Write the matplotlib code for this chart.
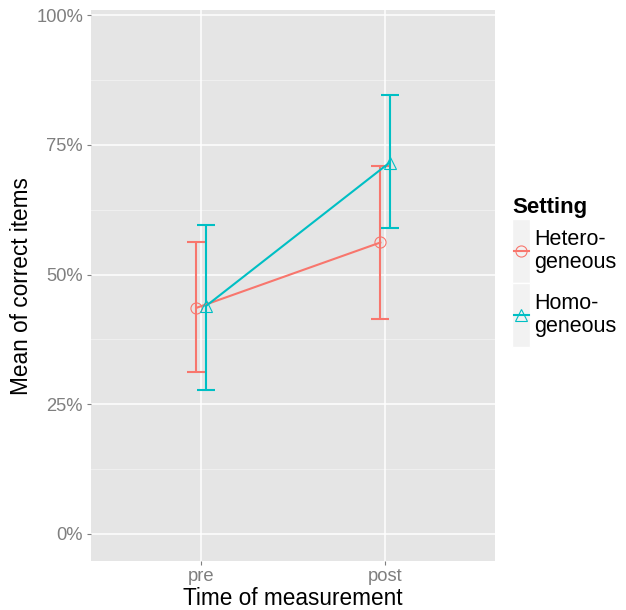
import matplotlib
matplotlib.use("Agg")
import matplotlib.pyplot as plt
from matplotlib.ticker import FuncFormatter, FixedLocator
from matplotlib.patches import Rectangle
from matplotlib.lines import Line2D

plt.rcParams['font.family'] = ['Liberation Sans', 'DejaVu Sans']

# ---- data ----
times = ["pre", "post"]
settings = ["Hetero-\ngeneous", "Homo-\ngeneous"]
hetero_mean = [0.436, 0.562]
hetero_lo = [0.312, 0.414]
hetero_hi = [0.562, 0.709]
homo_mean = [0.439, 0.716]
homo_lo = [0.278, 0.589]
homo_hi = [0.595, 0.846]
colors = ["#F8766D", "#00BFC4"]
markers = ["o", "^"]
y_ticks = [0, 0.25, 0.5, 0.75, 1.0]
y_minor = [0.125, 0.375, 0.625, 0.875]

W, H = 626, 610
fig = plt.figure(figsize=(W / 100, H / 100), dpi=100)
L, R, T, B = 90.7, 495.3, 9.5, 560.7
ax = fig.add_axes([L / W, 1 - B / H, (R - L) / W, (B - T) / H])
ax.set_facecolor("#E5E5E5")
for s in ax.spines.values():
    s.set_visible(False)

ax.set_xlim(-0.6, 1.6)
ax.set_ylim(-0.0515, 1.0112)

# grid
for y in y_minor:
    ax.axhline(y, color="#F2F2F2", lw=0.6, zorder=0)
for y in y_ticks:
    ax.axhline(y, color="white", lw=1.1, zorder=0.5)
for x in range(len(times)):
    ax.axvline(x, color="white", lw=1.1, zorder=0.5)

dodge = 0.025
series = [(hetero_mean, hetero_lo, hetero_hi), (homo_mean, homo_lo, homo_hi)]
for i, (m, lo, hi) in enumerate(series):
    off = -dodge if i == 0 else dodge
    xs = [k + off for k in range(len(times))]
    yerr = [[mm - l for mm, l in zip(m, lo)], [h - mm for mm, h in zip(m, hi)]]
    ax.errorbar(xs, m, yerr=yerr, fmt="none", ecolor=colors[i], elinewidth=1.5,
                capsize=6.5, capthick=1.5, zorder=2)
    ax.plot(xs, m, color=colors[i], lw=1.5, zorder=3)
    ax.plot(xs, m, linestyle="none", marker=markers[i], markersize=8 if i == 0 else 8.8,
            markerfacecolor="none", markeredgecolor=colors[i], markeredgewidth=0.8, zorder=4)

ax.set_xticks(range(len(times)))
ax.set_xticklabels(times)
ax.yaxis.set_major_locator(FixedLocator(y_ticks))
ax.yaxis.set_major_formatter(FuncFormatter(lambda v, p: f"{v*100:.0f}%"))
ax.tick_params(axis="both", colors="#7F7F7F", labelcolor="#7F7F7F", labelsize=13.2,
               length=3, width=0.8, pad=2.5)

fig.text((L + R) / 2 / W, 1 - 605 / H, "Time of measurement", ha="center",
         va="baseline", fontsize=16.3, color="black")
fig.text(22 / W, 1 - 286 / H, "Mean of correct items", ha="center", va="center",
         rotation=90, fontsize=16.3, color="black")

# ---- legend ----
fig.text(512 / W, 1 - 213 / H, "Setting", ha="left", va="baseline", fontsize=16,
         fontweight="bold", color="black")
key_tops = [219, 283]
key_h = 64
for i in range(len(settings)):
    kt = key_tops[i]
    fig.add_artist(Rectangle((512 / W, 1 - (kt + key_h) / H), 18 / W, key_h / H,
                             transform=fig.transFigure, facecolor="#F2F2F2",
                             edgecolor="white", lw=1))
    cy = 1 - (kt + key_h / 2) / H
    fig.add_artist(Line2D([513.5 / W, 528.5 / W], [cy, cy], transform=fig.transFigure,
                          color=colors[i], lw=1.5))
    fig.add_artist(Line2D([521 / W], [cy], transform=fig.transFigure, linestyle="none",
                          marker=markers[i], markersize=8 if i == 0 else 8.8,
                          markerfacecolor="none", markeredgecolor=colors[i],
                          markeredgewidth=0.8))
    fig.text(534 / W, cy, settings[i], ha="left", va="center", fontsize=15.5,
             linespacing=1.1, color="black")

fig.savefig("out.png", dpi=100)
